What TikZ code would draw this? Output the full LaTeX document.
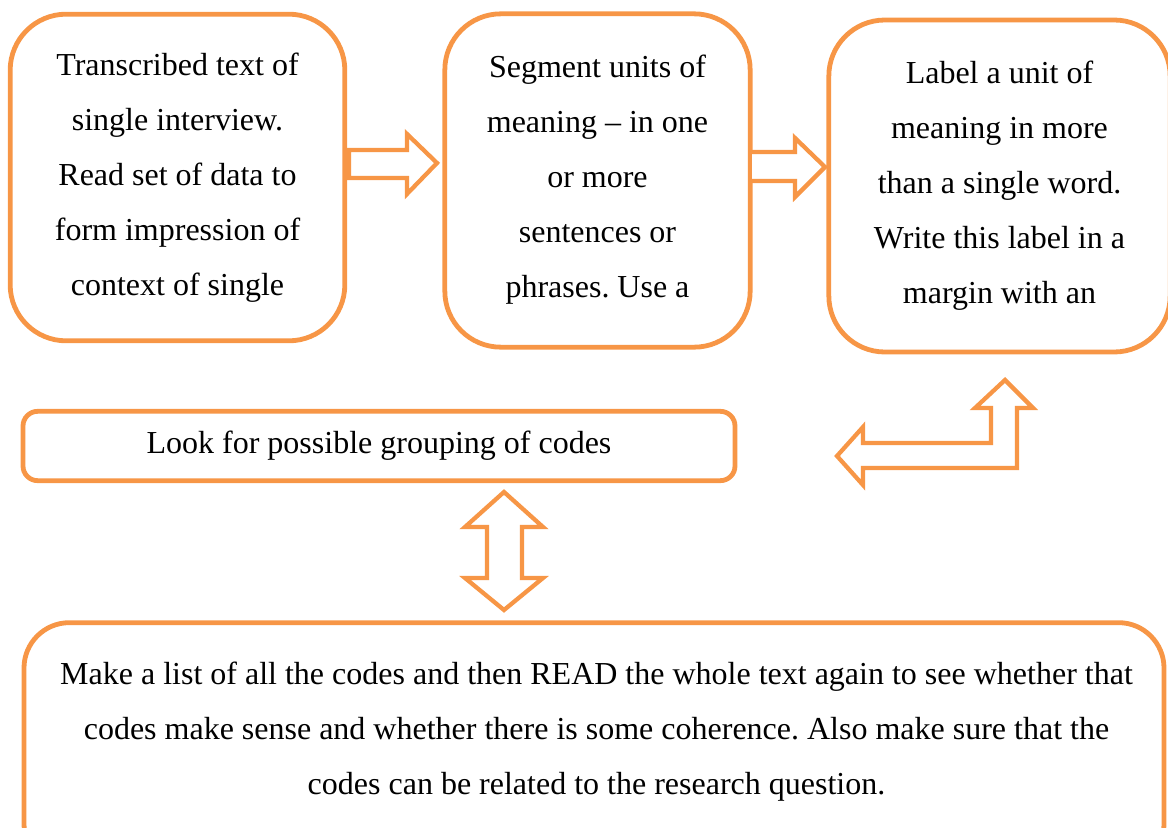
\documentclass[tikz,border=0pt]{standalone}
\usepackage{fontspec}
\setmainfont{Liberation Serif}
\definecolor{acc}{RGB}{247,150,70}
\tikzset{
  stepbox/.style={draw=acc, line width=3.6pt, fill=white, align=center,
    font=\frenchspacing\fontsize{24pt}{41.25pt}\selectfont, inner sep=0pt},
  blockarrow/.style={draw=acc, line width=3.2pt, fill=white, line join=miter},
}
\begin{document}
\begin{tikzpicture}[x=0.75pt, y=-0.75pt]
\useasboundingbox (0,0) rectangle (1168,828);
\node[stepbox, rounded corners=42pt, minimum width=251pt, minimum height=245pt] (b1) at (177.5,177.5)
  {Transcribed text of\\single interview.\\Read set of data to\\form impression of\\context of single\\[-37pt]};
\node[stepbox, rounded corners=42pt, minimum width=229pt, minimum height=250pt] (b2) at (597.5,180.5)
  {Segment units of\\meaning -- in one\\or more\\sentences or\\phrases. Use a\\[-35pt]};
\node[stepbox, rounded corners=42pt, minimum width=256pt, minimum height=249pt] (b3) at (999.5,186)
  {Label a unit of\\meaning in more\\than a single word.\\Write this label in a\\margin with an\\[-35pt]};
\node[stepbox, rounded corners=11pt, minimum width=534pt, minimum height=52pt] (b4) at (379,446)
  {Look for possible grouping of codes};
\node[stepbox, rounded corners=34pt, minimum width=855pt, minimum height=185pt] (b5) at (594,746) {};
\node[align=center, font=\frenchspacing\fontsize{24pt}{41.25pt}\selectfont, anchor=base] (t5) at (596.5,794)
  {Make a list of all the codes and then READ the whole text again to see whether that\\
   codes make sense and whether there is some coherence. Also make sure that the\\
   codes can be related to the research question.};
% arrow b1 -> b2
\draw[blockarrow] (349,150) -- (407,150) -- (407,134) -- (437,163) -- (407,194) -- (407,178) -- (349,178) -- cycle;
% arrow b2 -> b3
\draw[blockarrow] (752,152) -- (795,152) -- (795,138) -- (825,167) -- (795,197) -- (795,181) -- (752,181);
% bent arrow b3 <-> b4
\draw[blockarrow] (837,456) -- (863,427) -- (863,443) -- (991,443) -- (991,408) -- (975,408) -- (1005,380)
  -- (1033,408) -- (1017,408) -- (1017,468) -- (863,468) -- (863,485) -- cycle;
% up-down arrow b4 <-> b5
\draw[blockarrow] (504,492) -- (543,527) -- (522,527) -- (522,578) -- (543,578) -- (504,610)
  -- (465,578) -- (487,578) -- (487,527) -- (465,527) -- cycle;
\end{tikzpicture}
\end{document}
